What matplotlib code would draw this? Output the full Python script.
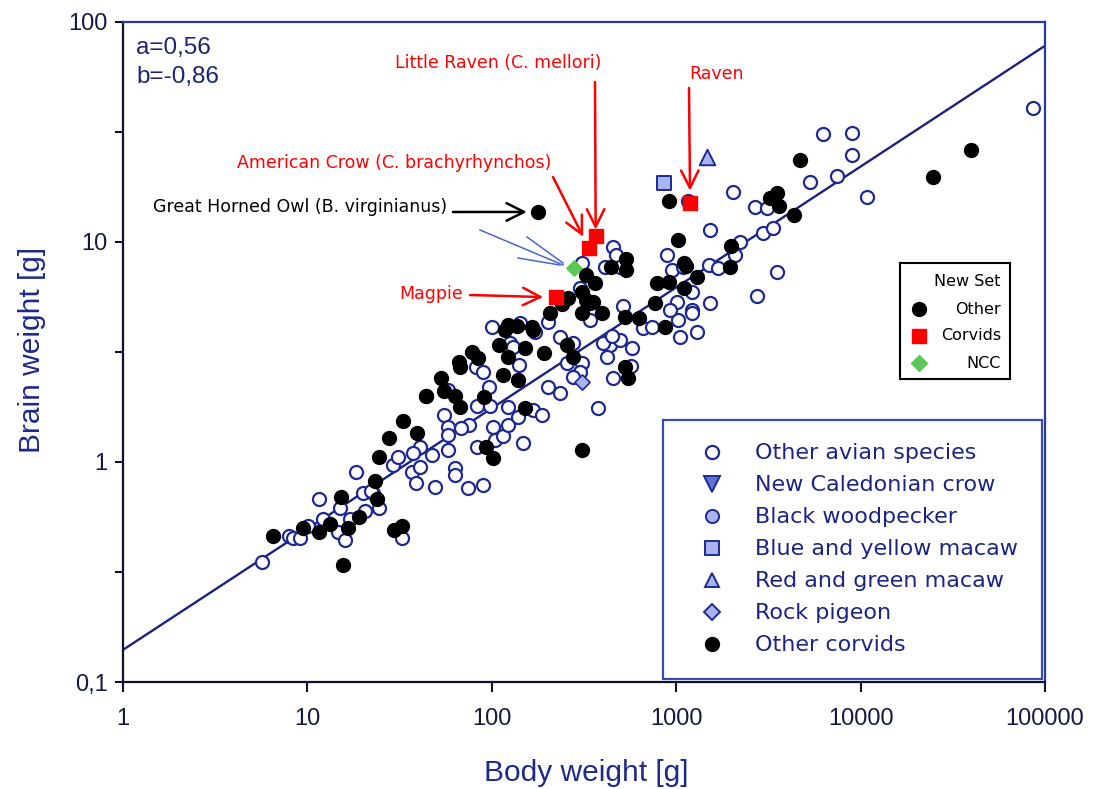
import matplotlib
matplotlib.use("Agg")
import matplotlib.pyplot as plt
from matplotlib.lines import Line2D
from matplotlib.patches import Rectangle
from matplotlib.ticker import NullLocator, NullFormatter, FixedLocator

# ---------------- data ----------------
# Other avian species (open circles): body weight [g], brain weight [g]
avian_body = [5.7, 7.9, 8.4, 9.1, 10.1, 11.6, 12.2, 15.1, 14.7, 15.9, 17.1, 19.9, 20.6, 24.3,
              22.8, 18.4, 29.2, 31, 37, 38.6, 41, 41, 37.5, 47.6, 49, 32.7, 22, 43.8, 58, 82,
              90, 96, 83, 98, 55, 58, 58, 58, 63, 63, 75, 68, 74, 90, 83, 101, 104, 115, 122,
              122, 138, 147, 125, 140, 167, 187, 201, 234, 100, 171, 201, 234, 255, 308, 300,
              275, 376, 438, 452, 340, 308, 452, 470, 410, 493, 300, 142, 130, 275, 400, 420,
              886, 946, 2040, 2680, 3110, 1530, 1090, 2090, 2220, 2960, 3340, 1510, 1690, 3530,
              2750, 1220, 1010, 1220, 1530, 513, 658, 737, 1025, 1050, 1300, 1220, 924, 493,
              574, 86000, 6280, 9000, 9000, 5330, 7480, 10800, 447, 570, 1160]
avian_brain = [0.35, 0.46, 0.45, 0.45, 0.51, 0.68, 0.55, 0.62, 0.48, 0.44, 0.55, 0.72, 0.60, 0.62,
               0.72, 0.90, 0.97, 1.05, 0.90, 0.80, 0.95, 1.17, 1.10, 1.08, 0.77, 0.45, 0.74, 2.0,
               2.12, 2.7, 2.57, 2.2, 1.8, 1.8, 1.64, 1.44, 1.33, 1.13, 0.94, 0.87, 1.47, 1.43,
               0.76, 0.79, 1.17, 1.44, 1.26, 1.31, 1.47, 1.78, 1.6, 1.22, 3.48, 2.76, 1.72, 1.64,
               2.19, 2.06, 4.1, 3.9, 4.33, 3.7, 2.82, 2.82, 2.57, 2.43, 1.76, 3.4, 2.41, 4.42,
               8.0, 9.5, 8.7, 7.7, 7.7, 6.2, 4.3, 3.33, 3.48, 3.48, 3.0, 8.7, 7.45, 16.9, 14.4,
               14.3, 11.3, 7.7, 8.7, 10.0, 11.0, 11.6, 7.85, 7.6, 7.3, 5.7, 5.9, 5.34, 4.9, 5.3,
               5.1, 4.07, 4.1, 4.4, 3.7, 3.9, 4.76, 4.9, 3.58, 3.3, 40.6, 31, 31.3, 24.8, 18.7,
               20, 16, 3.74, 2.73, 15.4]

# Black filled circles (other corvids / new set "Other")
black_body = [6.5, 9.5, 11.5, 13.2, 16.7, 15.6, 15.3, 19.1, 23.4, 23.7, 24.3, 27.8, 33.2, 39.5,
              44.2, 29.6, 32.7, 53, 55, 63, 67, 66, 67, 78, 84, 91, 93, 101, 115, 110, 122, 138,
              151, 151, 191, 118, 122, 137, 165, 167, 206, 255, 275, 240, 308, 340, 395, 308,
              178, 324, 362, 442, 533, 533, 308, 324, 353, 258, 525, 627, 525, 546, 785, 910,
              766, 866, 910, 1025, 1105, 1130, 1990, 1960, 1300, 1105, 3530, 3240, 3620, 4370,
              4700, 39500, 24600]
black_brain = [0.46, 0.50, 0.48, 0.52, 0.50, 0.34, 0.69, 0.56, 0.82, 0.68, 1.05, 1.29, 1.54, 1.35,
               2.0, 0.49, 0.51, 2.4, 2.1, 2.0, 1.78, 2.85, 2.7, 3.16, 2.97, 1.98, 1.17, 1.04, 2.49,
               3.4, 3.0, 2.36, 3.3, 1.76, 3.13, 4.0, 4.2, 4.15, 4.1, 4.0, 4.76, 3.4, 3.0, 5.2,
               4.76, 5.3, 4.76, 1.13, 13.7, 7.07, 6.5, 7.7, 8.4, 7.45, 5.9, 5.45, 5.34, 5.56,
               4.56, 4.5, 2.7, 2.41, 6.5, 6.6, 5.3, 4.1, 15.4, 10.2, 8.0, 7.8, 9.6, 7.7, 6.9, 6.2,
               16.7, 15.9, 14.6, 13.3, 23.6, 26.2, 19.7]

# New set corvids (red squares): Little Raven, American Crow, Magpie, Raven
corvid_names = ["Little Raven", "American Crow", "Magpie", "Raven"]
corvid_body = [366, 336, 222, 1190]
corvid_brain = [10.6, 9.4, 5.6, 15.0]

# NCC (green diamond)
ncc_body = [278]
ncc_brain = [7.6]

# Highlighted species
macaw_by_body, macaw_by_brain = [857], [18.5]      # Blue and yellow macaw
macaw_rg_body, macaw_rg_brain = [1470], [24.3]     # Red and green macaw
pigeon_body, pigeon_brain = [308], [2.3]           # Rock pigeon
owl_body, owl_brain = 178, 13.7                    # Great Horned Owl (black dot)

# Regression line (log-log) end points
fit_x = [1, 100000]
fit_y = [0.14, 78]

x_ticks = [1, 10, 100, 1000, 10000, 100000]
x_tick_labels = ["1", "10", "100", "1000", "10000", "100000"]
y_ticks = [0.1, 1, 10, 100]
y_tick_labels = ["0,1", "1", "10", "100"]
y_minor = [0.316, 3.16, 31.6]

legend_labels = ["Other avian species", "New Caledonian crow", "Black woodpecker",
                 "Blue and yellow macaw", "Red and green macaw", "Rock pigeon", "Other corvids"]
newset_labels = ["Other", "Corvids", "NCC"]

# ---------------- styling ----------------
W, H = 1095, 789
NAVY = "#1f2a90"
LIGHT = "#a8b4f0"
TXT = "#1c2680"


def fx(px):
    return px / W


def fy(py):
    return 1 - py / H


fig = plt.figure(figsize=(W / 100, H / 100), dpi=100)
ax = fig.add_axes([fx(123), fy(682), (1045 - 123) / W, (682 - 22) / H])
ax.set_xscale("log")
ax.set_yscale("log")
ax.set_xlim(1, 1e5)
ax.set_ylim(0.1, 100)

# regression line
ax.plot(fit_x, fit_y, color="#1a237e", lw=1.7, zorder=2)

# points
ax.scatter(avian_body, avian_brain, s=88, facecolor="white", edgecolor=NAVY, linewidth=1.6, zorder=3)
ax.scatter(black_body, black_brain, s=100, color="black", zorder=4)
ax.scatter(macaw_by_body, macaw_by_brain, marker="s", s=95, facecolor=LIGHT, edgecolor=NAVY, linewidth=1.4, zorder=5)
ax.scatter(macaw_rg_body, macaw_rg_brain, marker="^", s=125, facecolor=LIGHT, edgecolor=NAVY, linewidth=1.4, zorder=5)
ax.scatter(pigeon_body, pigeon_brain, marker="D", s=60, facecolor=LIGHT, edgecolor=NAVY, linewidth=1.2, zorder=5)
ax.scatter(corvid_body, corvid_brain, marker="s", s=90, color="#ff0000", zorder=6)
ax.scatter(ncc_body, ncc_brain, marker="D", s=62, color="#5cc85c", zorder=6)

# axes styling
for side in ["left", "bottom"]:
    ax.spines[side].set_color("#10102a")
    ax.spines[side].set_linewidth(1.6)
for side in ["top", "right"]:
    ax.spines[side].set_color("#2a3aa0")
    ax.spines[side].set_linewidth(1.6)

ax.xaxis.set_minor_locator(NullLocator())
ax.set_xticks(x_ticks)
ax.set_xticklabels(x_tick_labels, fontfamily="Liberation Sans", fontsize=17, color="#151a40")
ax.set_yticks(y_ticks)
ax.set_yticklabels(y_tick_labels, fontfamily="Liberation Sans", fontsize=17, color="#151a40")
ax.yaxis.set_minor_locator(FixedLocator(y_minor))
ax.yaxis.set_minor_formatter(NullFormatter())
ax.tick_params(axis="x", which="major", direction="out", length=7, width=1.5, pad=12, color="#10102a")
ax.tick_params(axis="y", which="both", direction="out", length=6, width=1.5, pad=5, color="#10102a")

fig.text(fx(586), fy(773), "Body weight [g]", ha="center", va="center",
         fontfamily="Liberation Sans", fontsize=21.5, color="#1e2a8a")
fig.text(fx(32), fy(350), "Brain weight [g]", ha="center", va="center", rotation=90,
         fontfamily="Liberation Sans", fontsize=21.5, color="#1e2a8a")

fig.text(fx(136), fy(48), "a=0,56", ha="left", va="center", fontfamily="Liberation Sans",
         fontsize=17.5, color="#1a2470")
fig.text(fx(136), fy(77), "b=-0,86", ha="left", va="center", fontfamily="Liberation Sans",
         fontsize=17.5, color="#1a2470")

# annotations
afs = 12.5
fig.text(fx(498), fy(63), "Little Raven (C. mellori)", ha="center", va="center", fontsize=afs, color="#ff0000")
fig.text(fx(716), fy(74), "Raven", ha="center", va="center", fontsize=afs, color="#ff0000")
fig.text(fx(551), fy(163), "American Crow (C. brachyrhynchos)", ha="right", va="center", fontsize=afs, color="#ff0000")
fig.text(fx(447), fy(207), "Great Horned Owl (B. virginianus)", ha="right", va="center", fontsize=afs, color="black")
fig.text(fx(463), fy(294), "Magpie", ha="right", va="center", fontsize=afs, color="#ff0000")

arrow_style = "->,head_length=0.9,head_width=0.45"


def arrow(target, start_px, color, shrink):
    ax.annotate("", xy=target, xycoords="data",
                xytext=(fx(start_px[0]), fy(start_px[1])), textcoords="figure fraction",
                arrowprops=dict(arrowstyle=arrow_style, color=color, lw=1.8,
                                shrinkA=0, shrinkB=shrink, mutation_scale=14))


arrow((corvid_body[0], corvid_brain[0]), (595, 82), "#ff0000", 5)
arrow((corvid_body[1], corvid_brain[1]), (553, 177), "#ff0000", 9)
arrow((corvid_body[2], corvid_brain[2]), (470, 295), "#ff0000", 9)
arrow((corvid_body[3], corvid_brain[3]), (689, 88), "#ff0000", 9)
arrow((owl_body, owl_brain), (453, 212), "black", 8)

# thin blue fan pointing to NCC
for (x0, y0), (x1, y1) in [((480, 230), (563, 265)), ((527, 237), (563, 263)), ((518, 258), (560, 265))]:
    fig.add_artist(Line2D([fx(x0), fx(x1)], [fy(y0), fy(y1)], transform=fig.transFigure,
                          color="#4a66d0", lw=1.1))

# main legend
handles = [
    Line2D([], [], ls="", marker="o", mfc="white", mec=NAVY, mew=1.6, ms=9.5),
    Line2D([], [], ls="", marker="v", mfc="#6272d4", mec=NAVY, mew=1.4, ms=11),
    Line2D([], [], ls="", marker="o", mfc=LIGHT, mec=NAVY, mew=1.4, ms=9.5),
    Line2D([], [], ls="", marker="s", mfc=LIGHT, mec=NAVY, mew=1.4, ms=9.5),
    Line2D([], [], ls="", marker="^", mfc=LIGHT, mec=NAVY, mew=1.4, ms=10.5),
    Line2D([], [], ls="", marker="D", mfc=LIGHT, mec=NAVY, mew=1.4, ms=8),
    Line2D([], [], ls="", marker="o", mfc="black", mec="black", ms=10),
]
leg = ax.legend(handles, legend_labels, loc="upper left",
                bbox_to_anchor=(fx(663), fy(420)), bbox_transform=fig.transFigure,
                prop={"family": "DejaVu Sans", "size": 16.0}, labelcolor=TXT,
                frameon=True, fancybox=False, framealpha=1, edgecolor="#3a4ab0",
                borderpad=1.05, handlelength=2.28, handletextpad=0.82, labelspacing=0.54,
                borderaxespad=0)
leg.get_frame().set_linewidth(1.6)
leg.set_zorder(10)

# "New Set" legend box
fig.add_artist(Rectangle((fx(900), fy(379)), (1010 - 900) / W, (379 - 263) / H,
                         transform=fig.transFigure, facecolor="white", edgecolor="black", lw=1.5, zorder=9))
nfs = 11.5
fig.text(fx(1001), fy(282), "New Set", ha="right", va="center", fontsize=nfs, color="black", zorder=10)
rows_y = [309, 336, 363]
marker_specs = [dict(marker="o", mfc="black", mec="black", ms=10),
                dict(marker="s", mfc="#ff0000", mec="#ff0000", ms=9.5),
                dict(marker="D", mfc="#5cc85c", mec="#5cc85c", ms=8)]
for lbl, yy, spec in zip(newset_labels, rows_y, marker_specs):
    fig.text(fx(1001), fy(yy), lbl, ha="right", va="center", fontsize=nfs, color="black", zorder=10)
    fig.add_artist(Line2D([fx(919)], [fy(yy)], transform=fig.transFigure, ls="", zorder=10, **spec))

fig.savefig("out.png", dpi=100)
